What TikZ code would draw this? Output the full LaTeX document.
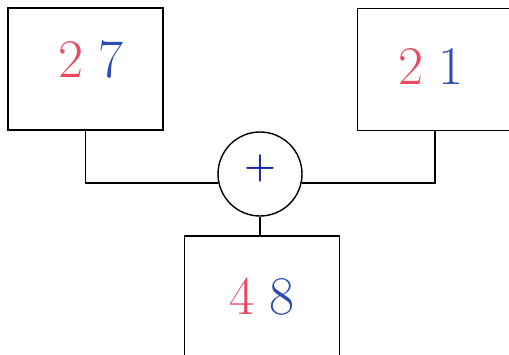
\documentclass[tikz,border=0pt]{standalone}
\usepackage{amsmath}
\usepackage{tikz}
\definecolor{digred}{RGB}{232,74,98}
\definecolor{digblue}{RGB}{44,78,178}
\definecolor{plusblue}{RGB}{22,40,170}
\newcommand{\digs}[2]{\fontsize{31}{31}\selectfont\textcolor{digred}{#1}\hspace{0.3cm}\textcolor{digblue}{#2}}

\begin{document}
\begin{tikzpicture}[x=0.02cm, y=-0.02cm, line width=0.8pt,
		box/.style={draw, minimum width=3.1cm, minimum height=2.44cm, inner sep=0pt},
		sumnode/.style={draw, circle, minimum size=1.68cm, inner sep=0pt}]
			\useasboundingbox (0,0) rectangle (509,354);
			\clip (0,0) rectangle (509,354);
			\node[box] (lbox) at (85.5,69) {};
			\node[box] (rbox) at (435,69.5) {};
			\node[box] (obox) at (262,297) {};
			\node[sumnode] (sum) at (260,174) {};
			\node[text=plusblue, font=\fontsize{21}{21}\selectfont] (plus) at (260,168) {$\boldsymbol{+}$};
			\node (ltext) at (90.5,60) {\digs{2}{7}};
			\node (rtext) at (431,67) {\digs{2}{1}};
			\node (otext) at (262,297) {\digs{4}{8}};
			% lines meet the circle a little below its centre
			\draw (lbox.south) |- (sum.192);
			\draw (sum.348) -| (rbox.south);
			\draw (sum.south) -- (sum.south |- obox.north);
		\end{tikzpicture}
\end{document}
